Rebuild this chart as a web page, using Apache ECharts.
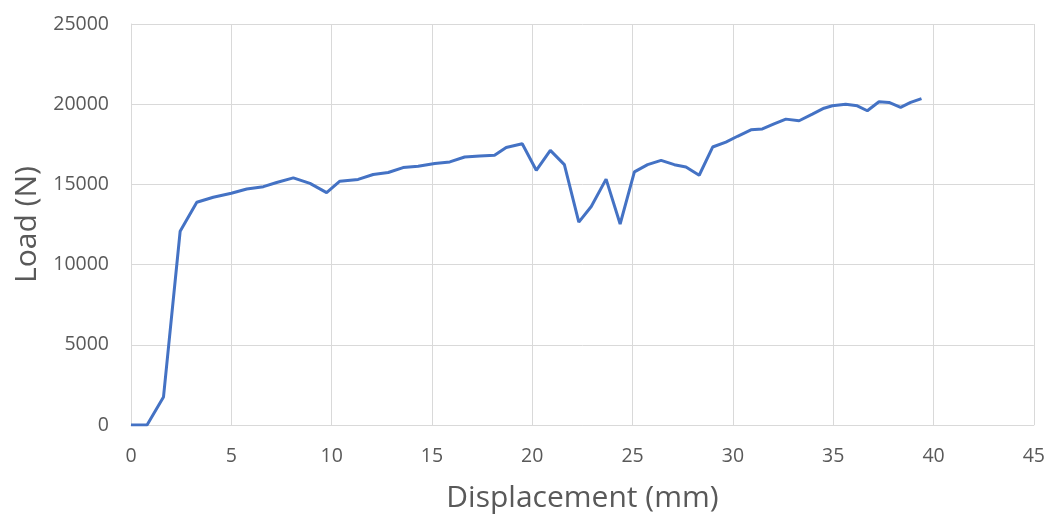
<!DOCTYPE html>
<html>
<head>
<meta charset="utf-8">
<script src="https://cdn.jsdelivr.net/npm/echarts@6/dist/echarts.min.js"></script>
<style>html,body{margin:0;padding:0;background:#fff;}#c{width:1048px;height:518px;}</style>
</head>
<body>
<div id="c"></div>
<script>
// Displacement (mm)
var displacement = [0, 0.8, 1.62, 2.45, 3.28, 4.1, 5.0, 5.77, 6.6, 7.26, 8.09, 8.92, 9.75, 10.41, 11.32, 12.07, 12.82, 13.56, 14.31, 15.14, 15.89, 16.63, 17.38, 18.12, 18.7, 19.5, 20.2, 20.9, 21.6, 22.32, 22.94, 23.68, 24.38, 25.09, 25.75, 26.42, 27.08, 27.66, 28.32, 28.99, 29.65, 30.23, 30.9, 31.47, 32.05, 32.64, 33.3, 33.96, 34.54, 34.96, 35.62, 36.2, 36.7, 37.28, 37.78, 38.36, 38.86, 39.4];
// Load (N)
var load = [0, 0, 1750, 12080, 13890, 14200, 14450, 14710, 14860, 15120, 15410, 15060, 14490, 15200, 15310, 15620, 15740, 16050, 16130, 16300, 16400, 16710, 16770, 16810, 17300, 17530, 15880, 17120, 16230, 12650, 13620, 15330, 12530, 15780, 16230, 16500, 16230, 16090, 15570, 17330, 17640, 18000, 18400, 18460, 18770, 19070, 18970, 19380, 19750, 19900, 20000, 19900, 19590, 20150, 20110, 19800, 20110, 20350];

var points = displacement.map(function (x, i) { return [x, load[i]]; });

var chart = echarts.init(document.getElementById('c'), null, {renderer: 'canvas'});
var txt = '#595959';
var gridColor = '#d9d9d9';
chart.setOption({
  animation: false,
  backgroundColor: '#fff',
  grid: {left: 131, right: 13, top: 24, bottom: 89, containLabel: false},
  xAxis: {
    type: 'value', min: 0, max: 45, interval: 5,
    name: 'Displacement (mm)', nameLocation: 'middle', nameGap: 58,
    nameTextStyle: {color: txt, fontSize: 30, fontFamily: 'Open Sans'},
    axisLine: {show: true, lineStyle: {color: gridColor, width: 1}},
    axisTick: {show: false},
    axisLabel: {color: txt, fontSize: 19.5, fontFamily: 'Open Sans', margin: 21,
      formatter: function (v) { return String(v); }},
    splitLine: {show: true, lineStyle: {color: gridColor, width: 1}}
  },
  yAxis: {
    type: 'value', min: 0, max: 25000, interval: 5000,
    name: 'Load (N)', nameLocation: 'middle', nameGap: 86,
    nameTextStyle: {color: txt, fontSize: 30, fontFamily: 'Open Sans'},
    axisLine: {show: true, lineStyle: {color: gridColor, width: 1}},
    axisTick: {show: false},
    axisLabel: {color: txt, fontSize: 19.5, fontFamily: 'Open Sans', margin: 22,
      formatter: function (v) { return String(v); }},
    splitLine: {show: true, lineStyle: {color: gridColor, width: 1}}
  },
  series: [{
    type: 'line',
    data: points,
    showSymbol: false,
    symbol: 'none',
    lineStyle: {color: '#4472C4', width: 3},
    itemStyle: {color: '#4472C4'}
  }]
});
</script>
</body>
</html>
